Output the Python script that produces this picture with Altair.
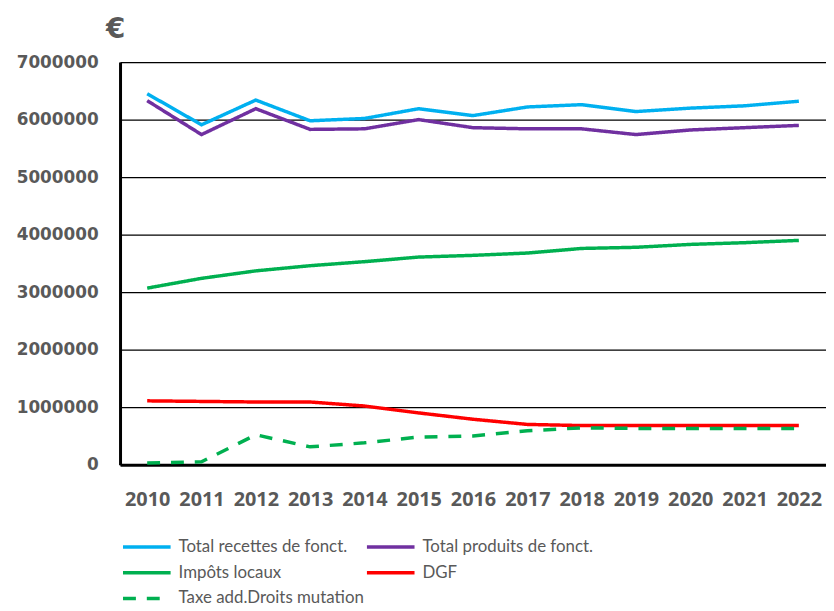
import altair as alt
import pandas as pd

years = [str(y) for y in range(2010, 2023)]
series = [
    "Total recettes de fonct.",
    "Total  produits de fonct.",
    "Impôts locaux",
    "DGF",
    "Taxe add.Droits mutation",
]
colors = ["#00B0F0", "#7030A0", "#00B050", "#FF0000", "#00B050"]
dashes = [[1, 0], [1, 0], [1, 0], [1, 0], [13, 11]]
# legend is filled column by column: order entries so rows read as in the reference
legend_order = [series[0], series[2], series[4], series[1], series[3]]

total_recettes = [6450000, 5910000, 6340000, 5980000, 6020000, 6190000, 6070000,
                  6220000, 6260000, 6140000, 6200000, 6240000, 6320000]
total_produits = [6330000, 5740000, 6190000, 5830000, 5840000, 6000000, 5860000,
                  5840000, 5840000, 5740000, 5820000, 5860000, 5900000]
impots_locaux = [3070000, 3240000, 3370000, 3460000, 3530000, 3610000, 3640000,
                 3680000, 3760000, 3780000, 3830000, 3860000, 3900000]
dgf = [1110000, 1100000, 1090000, 1090000, 1020000, 900000, 790000,
       700000, 680000, 680000, 680000, 680000, 680000]
taxe_add = [30000, 50000, 520000, 310000, 380000, 480000, 500000,
            590000, 640000, 630000, 630000, 630000, 630000]

values = [total_recettes, total_produits, impots_locaux, dgf, taxe_add]
rows = []
for name, vals in zip(series, values):
    for yr, v in zip(years, vals):
        rows.append({"annee": yr, "serie": name, "valeur": v})
df = pd.DataFrame(rows)

color_range = [colors[series.index(s)] for s in legend_order]
dash_range = [dashes[series.index(s)] for s in legend_order]

legend = alt.Legend(
    title=None,
    orient="none",
    legendX=1,
    legendY=475,
    columns=2,
    columnPadding=-28,
    rowPadding=4,
    symbolType="M-1,0H3",
    symbolSize=576,
    symbolStrokeWidth=3.5,
    labelFont="Lato",
    labelFontSize=17,
    labelColor="#595959",
    labelOffset=30,
    labelLimit=400,
    padding=0,
)

chart = alt.Chart(df).mark_line(strokeWidth=3.5).encode(
    x=alt.X("annee:O", sort=years,
            scale=alt.Scale(padding=0.5),
            axis=alt.Axis(title=None, labelAngle=0, labelFont="Open Sans",
                          labelFontSize=20, labelFontWeight="bold",
                          labelColor="#595959", labelPadding=25, ticks=False,
                          domain=True, domainColor="black", domainWidth=3,
                          grid=False)),
    y=alt.Y("valeur:Q",
            scale=alt.Scale(domain=[0, 7000000], nice=False),
            axis=alt.Axis(title="€", titleAngle=0, titleX=-5, titleY=-33,
                          titleAlign="center", titleBaseline="middle",
                          titleFont="DejaVu Sans", titleFontSize=28,
                          titleFontWeight="bold", titleColor="#595959",
                          values=[0, 1000000, 2000000, 3000000, 4000000,
                                  5000000, 6000000, 7000000],
                          format="d", labelFont="DejaVu Sans",
                          labelFontSize=17, labelFontWeight="bold",
                          labelColor="#595959", labelPadding=22, ticks=False,
                          domain=True, domainColor="black", domainWidth=3,
                          grid=True, gridColor="black", gridWidth=1.2,
                          gridOpacity=1)),
    color=alt.Color("serie:N", sort=legend_order,
                    scale=alt.Scale(domain=legend_order, range=color_range),
                    legend=legend),
    strokeDash=alt.StrokeDash("serie:N", sort=legend_order,
                              scale=alt.Scale(domain=legend_order, range=dash_range),
                              legend=legend),
).properties(
    width=712,
    height=406,
    autosize=alt.AutoSizeParams(type="none"),
    padding={"left": 113, "top": 52, "right": 0, "bottom": 145},
).configure_view(
    stroke="black", strokeWidth=2.5
).configure(background="white")

chart.save("out.html", embed_options={"renderer": "svg", "actions": False})
